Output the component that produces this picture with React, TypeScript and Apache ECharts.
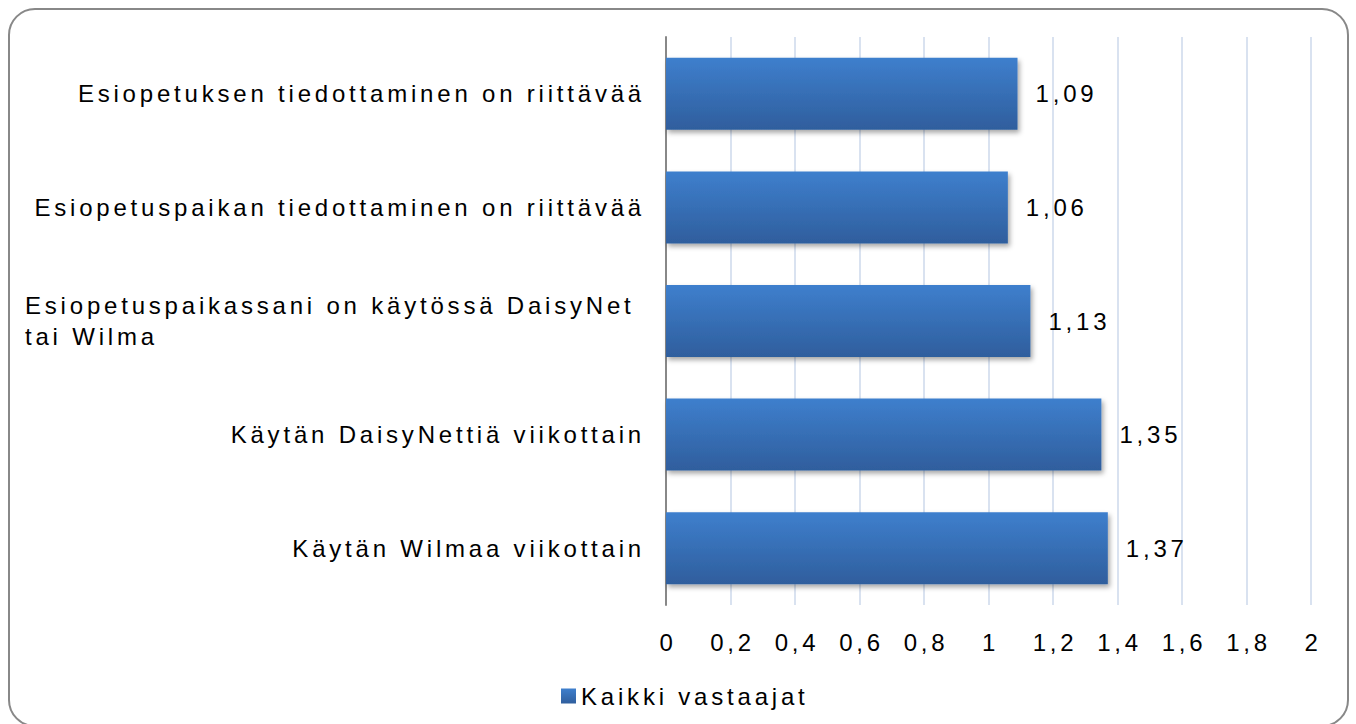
import React, { useEffect, useRef } from "react";
import * as echarts from "echarts";

const categories = [
  "Esiopetuksen tiedottaminen on riittävää",
  "Esiopetuspaikan tiedottaminen on riittävää",
  "Esiopetuspaikassani on käytössä DaisyNet tai Wilma",
  "Käytän DaisyNettiä viikottain",
  "Käytän Wilmaa viikottain",
];
const values = [1.09, 1.06, 1.13, 1.35, 1.37];
const seriesName = "Kaikki vastaajat";
const axisMin = 0;
const axisMax = 2;
const axisStep = 0.2;

const fmt = (v: number) => String(Math.round(v * 100) / 100).replace(".", ",");

export default function App() {
  const ref = useRef<HTMLDivElement>(null);
  useEffect(() => {
    if (!ref.current) return;
    const chart = echarts.init(ref.current, null, { renderer: "svg" });
    const font = "'Liberation Sans', Arial, sans-serif";
    const fs = 24;
    chart.setOption({
      animation: false,
      backgroundColor: "#ffffff",
      textStyle: { fontFamily: font },
      graphic: [
        {
          type: "rect",
          shape: { x: 9, y: 9, width: 1339, height: 717, r: 26 },
          style: { fill: "none", stroke: "#888888", lineWidth: 2 },
          z: 100,
          silent: true,
        },
      ],
      grid: { left: 666, right: 45, top: 37, bottom: 119, containLabel: false },
      legend: {
        top: 679,
        left: 556,
        icon: "rect",
        itemWidth: 15,
        itemHeight: 15,
        itemGap: 10,
        itemStyle: { shadowBlur: 0, shadowOffsetX: 0, shadowOffsetY: 0 },
        textStyle: { fontFamily: font, fontSize: fs, color: "#000" },
        data: [seriesName],
      },
      xAxis: {
        type: "value",
        min: axisMin,
        max: axisMax,
        interval: axisStep,
        axisLine: { show: false },
        axisTick: { show: false },
        splitLine: { show: true, lineStyle: { color: "#d9e2f0", width: 2 } },
        axisLabel: {
          fontFamily: font,
          fontSize: fs,
          color: "#000",
          margin: 25,
          padding: [0, 0, 0, 4],
          formatter: (v: number) => fmt(v),
        },
      },
      yAxis: {
        type: "category",
        data: categories,
        inverse: true,
        axisLine: { show: true, lineStyle: { color: "#888888", width: 2 } },
        axisTick: { show: false },
        splitLine: { show: false },
        axisLabel: {
          fontFamily: font,
          fontSize: fs,
          color: "#000",
          margin: 21,
          lineHeight: 31,
          formatter: (v: string) => {
            if (v.length > 44) {
              const idx = v.lastIndexOf(" ", 41);
              return "{l|" + v.slice(0, idx) + "}\n{l|" + v.slice(idx + 1) + "}";
            }
            return v;
          },
          rich: {
            l: { width: 620, align: "left", fontSize: fs, fontFamily: font, color: "#000", lineHeight: 31 },
          },
        },
      },
      series: [
        {
          name: seriesName,
          type: "bar",
          data: values,
          barWidth: 72,
          itemStyle: {
            color: new echarts.graphic.LinearGradient(0, 0, 0, 1, [
              { offset: 0, color: "#3e7fcd" },
              { offset: 1, color: "#2f5e9d" },
            ]),
            shadowColor: "rgba(0,0,0,0.35)",
            shadowBlur: 5,
            shadowOffsetX: 2,
            shadowOffsetY: 3,
          },
          label: {
            show: true,
            position: "right",
            distance: 18,
            fontFamily: font,
            fontSize: fs,
            color: "#000",
            formatter: (p: any) => fmt(p.value),
          },
        },
      ],
    });
    return () => chart.dispose();
  }, []);
  return (
    <div
      ref={ref}
      style={{ position: "fixed", left: 0, top: 0, width: 1356, height: 724, letterSpacing: "3.8px" }}
    />
  );
}
